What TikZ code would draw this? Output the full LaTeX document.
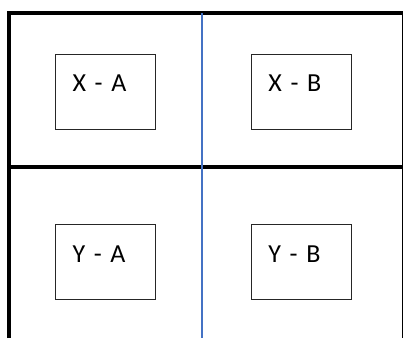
\documentclass[tikz,border=0pt]{standalone}
\usepackage{fontspec}
\setmainfont{Carlito}
\usetikzlibrary{positioning}
\definecolor{divblue}{RGB}{68,114,196}

\begin{document}
\begin{tikzpicture}[x=1pt, y=-1pt, node distance=95pt,
  cell/.style={draw=black!85, line width=0.9pt, minimum width=100pt, minimum height=75pt,
               text width=66pt, inner xsep=17pt, align=left,
               text height=20pt, text depth=20pt, font=\fontsize{26}{30}\selectfont},
  frame/.style={line width=4pt},
  thinframe/.style={line width=1.5pt},
  divider/.style={draw=divblue, line width=1.5pt}]

  \useasboundingbox (0,0) rectangle (404,338);

  \node[cell] (xa) at (105.5,91.5) {X - A};
  \node[cell, right=of xa] (xb) {X - B};
  \node[cell, below=of xa] (ya) {Y - A};
  \node[cell, right=of ya] (yb) {Y - B};

  \coordinate (tl) at (9,13);
  \coordinate (tr) at (403,13);
  \coordinate (bl) at (9,338);
  \coordinate (ml) at (7,167);
  \coordinate (mr) at (403,167);
  \coordinate (rt) at (402.5,13);
  \coordinate (rb) at (402.5,338);
  \coordinate (dt) at (202,13);
  \coordinate (db) at (202,338);

  \draw[frame] (bl) -- (tl) -- (tr);
  \draw[frame] (ml) -- (mr);
  \draw[thinframe] (rt) -- (rb);
  \draw[divider] (dt) -- (db);
\end{tikzpicture}
\end{document}
